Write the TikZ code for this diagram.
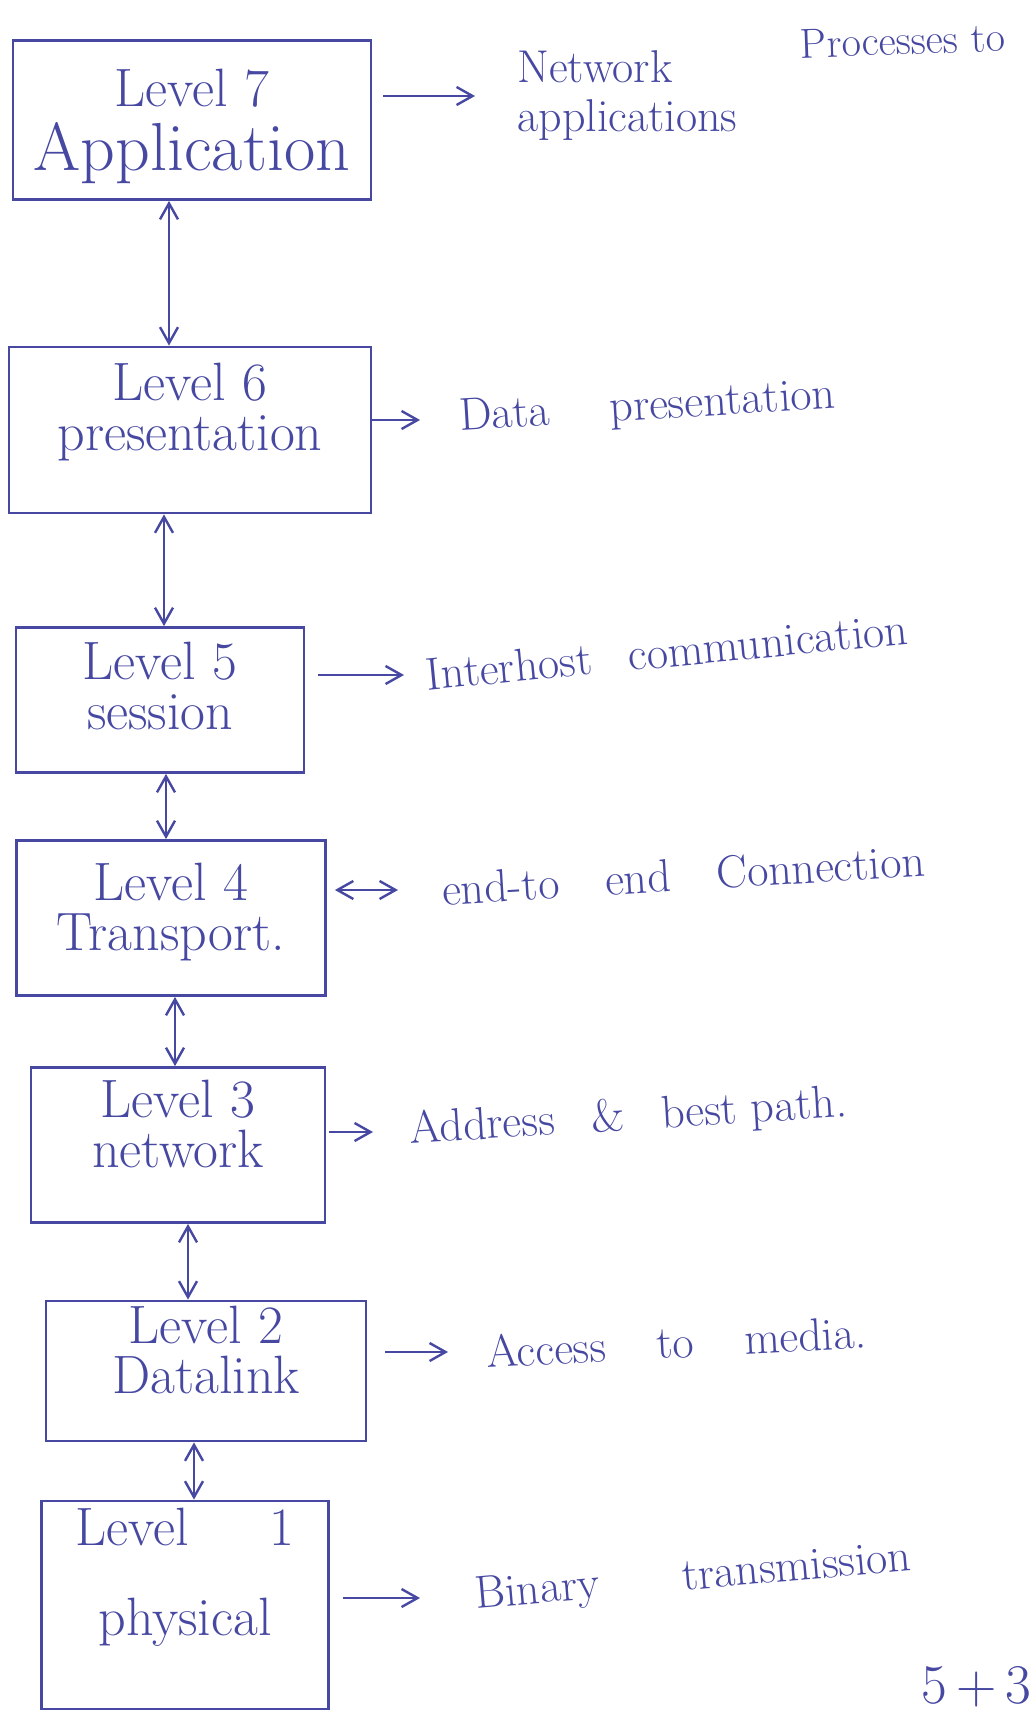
\documentclass[tikz,border=0pt]{standalone}
\usepackage{fontspec}
\usetikzlibrary{arrows.meta,positioning}

\definecolor{ink}{RGB}{70,72,162}

\begin{document}
\begin{tikzpicture}[
    x=0.5pt, y=-0.5pt,
    align=center,
    >={Straight Barb[length=8pt,width=9pt]},
    layer/.style={rectangle, draw=ink, line width=1.4pt, text=ink,
      inner sep=0pt, font=\fontsize{27}{25}\selectfont},
    note/.style={anchor=west, text=ink, inner sep=2pt, align=left,
      font=\fontsize{23}{24.5}\selectfont},
    dep/.style={ink, line width=1.2pt}
  ]

  \useasboundingbox (0,0) rectangle (1035,1712);
  \fill[white] (0,0) rectangle (1035,1712);

  % layout the seven layers

  \node (l7) [layer, minimum width=179pt, minimum height=79.5pt, text depth=-4pt]
        at (192,120)   {Level 7\\[7pt]{\fontsize{34}{34}\selectfont Application}};
  \node (l6) [layer, minimum width=181pt, minimum height=83pt, text depth=23pt]
        at (190,430)   {Level 6\\presentation};
  \node (l5) [layer, minimum width=144pt, minimum height=72.5pt, text depth=14pt]
        at (160,700)   {Level 5\\session};
  \node (l4) [layer, minimum width=154.5pt, minimum height=77.5pt, text depth=11pt]
        at (171,918)   {Level 4\\Transport.};
  \node (l3) [layer, minimum width=147pt, minimum height=77.5pt, text depth=21pt]
        at (178,1145)  {Level 3\\network};
  \node (l2) [layer, minimum width=160pt, minimum height=70pt, text depth=21pt]
        at (206,1371)  {Level 2\\Datalink};
  \node (l1) [layer, minimum width=143.5pt, minimum height=104pt, text depth=33pt]
        at (185,1605)  {Level\hspace{1.5em}1\\[20pt]physical};

  % what each layer does

  \node (n7) [note]                                      at (513,96)
        {Network\\applications};
  \node (p7) [note, rotate=2, font=\fontsize{21}{21}\selectfont] at (796,44)
        {Processes to};
  \node (n6) [note, rotate=3.5]                          at (455,420)
        {Data\hspace{1.3em}presentation};
  \node (n5) [note, rotate=5.5]                          at (422,675)
        {Interhost\hspace{0.8em}communication};
  \node (n4) [note, rotate=3.5]                          at (438,890)
        {end-to\hspace{1em}end\hspace{1em}Connection};
  \node (n3) [note, rotate=3.5]                          at (405,1132)
        {Address\hspace{0.8em}\&\hspace{0.8em}best path.};
  \node (n2) [note, rotate=3]                            at (482,1352)
        {Access\hspace{1.1em}to\hspace{1.1em}media.};
  \node (n1) [note, rotate=5]                            at (471,1598)
        {Binary\hspace{1.8em}transmission};

  \node (mk) [note, anchor=east, inner sep=0pt, font=\fontsize{28}{28}\selectfont]
        at (1032,1687) {5\,+\,3};

  % links between neighbouring layers

  \draw[dep] ([xshift=-11.5pt]l7.south) edge[<->] ([xshift=-10.5pt]l6.north);
  \draw[dep] ([xshift=-13pt]l6.south)   edge[<->] ([xshift=2pt]l5.north);
  \draw[dep] ([xshift=3pt]l5.south)     edge[<->] ([xshift=-2.5pt]l4.north);
  \draw[dep] ([xshift=2pt]l4.south)     edge[<->] ([xshift=-1.5pt]l3.north);
  \draw[dep] ([xshift=5pt]l3.south)     edge[<->] ([xshift=-9pt]l2.north);
  \draw[dep] ([xshift=-6pt]l2.south)    edge[<->] ([xshift=4.5pt]l1.north);

  % arrows out to the notes

  \draw[dep] (l7.east |- n7.west) edge [->, shorten <=5.5pt, shorten >=19pt]   (n7.west);
  \draw[dep] (l6.east |- n6.west) edge [->, shorten >=17.5pt]                  (n6.west);
  \draw[dep] (l5.east |- n5.west) edge [->, shorten <=6.5pt, shorten >=9pt]    (n5.west);
  \draw[dep] (l4.east |- n4.west) edge [<->, shorten <=4pt, shorten >=20pt]    (n4.west);
  \draw[dep] (l3.east |- n3.west) edge [->, shorten <=1.5pt, shorten >=16pt]   (n3.west);
  \draw[dep] (l2.east |- n2.west) edge [->, shorten <=9pt, shorten >=17pt]     (n2.west);
  \draw[dep] (l1.east |- n1.west) edge [->, shorten <=6.5pt, shorten >=25.5pt] (n1.west);

\end{tikzpicture}
\end{document}
